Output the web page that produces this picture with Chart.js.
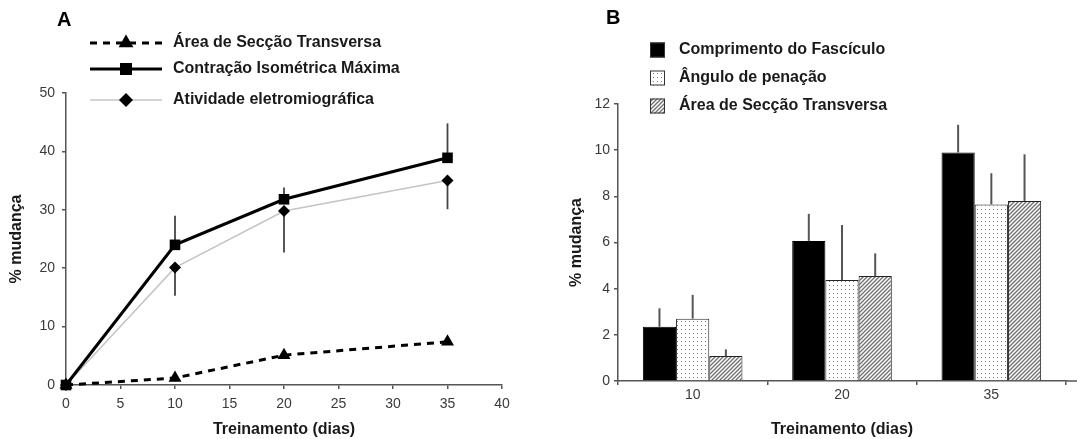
<!DOCTYPE html>
<html>
<head>
<meta charset="utf-8">
<script src="https://cdn.jsdelivr.net/npm/chart.js@4.4.0/dist/chart.umd.min.js"></script>
<style>
    body { margin: 0; background: #fff; }
    #painel { position: relative; width: 1077px; height: 439px; }
    #canvaA { position: absolute; left: 0; top: 0; }
    #canvaB { position: absolute; left: 540px; top: 0; }
</style>
</head>
<body>
<div id="painel">
    <canvas id="canvaA" width="540" height="439"></canvas>
    <canvas id="canvaB" width="537" height="439"></canvas>
</div>
<script>
// dados do grafico A (linhas)
var dias = [0, 10, 20, 35];
var area_secao = [0, 1.2, 5.1, 7.4];
var contracao = [0, 24, 31.8, 38.9];
var erro_contracao = [0, 5, 2, 5.9];      // erro para cima
var atividade = [0, 20.1, 29.8, 35];
var erro_atividade = [0, 4.8, 7.1, 4.9];  // erro para baixo

// dados do grafico B (barras)
var semanas = ['10', '20', '35'];
var comprimento = [2.35, 6.07, 9.9];
var erro_comprimento = [0.8, 1.17, 1.2];
var angulo = [2.7, 4.38, 7.65];
var erro_angulo = [1.03, 2.38, 1.35];
var area_b = [1.08, 4.55, 7.8];
var erro_area_b = [0.29, 0.98, 2.02];

var myChart1;
var myChart2;

Chart.defaults.font.family = "'Liberation Sans', Arial, sans-serif";
Chart.defaults.animation = false;

var corEixo = '#555';
var corTexto = '#1a1a1a';
var corTick = '#3a3a3a';

function pontos(ys) { // junta x e y para o grafico linear
    var lista = [];
    for (var i = 0; i < dias.length; i++) {
        lista.push({ x: dias[i], y: ys[i] });
    }
    return lista;
}

function desenhaMarcador(ctx, tipo, x, y, r) {
    ctx.beginPath();
    if (tipo == 'triangle') {
        ctx.moveTo(x, y - r);
        ctx.lineTo(x + r * 0.87, y + r * 0.5);
        ctx.lineTo(x - r * 0.87, y + r * 0.5);
    } else if (tipo == 'rect') {
        var s = r * Math.SQRT1_2;
        ctx.rect(x - s, y - s, 2 * s, 2 * s);
    } else {
        ctx.moveTo(x - r, y);
        ctx.lineTo(x, y - r);
        ctx.lineTo(x + r, y);
        ctx.lineTo(x, y + r);
    }
    ctx.closePath();
    ctx.fill();
}

// legenda e letra do painel A
var legendaA = {
    id: 'legendaA',
    afterDraw: function (chart) {
        var ctx = chart.ctx;
        var linhas = [43, 69, 100];
        ctx.save();
        ctx.fillStyle = '#000';
        ctx.font = "bold 20px 'Liberation Sans', Arial";
        ctx.textBaseline = 'middle';
        ctx.fillText('A', 57, 20);
        chart.data.datasets.forEach(function (ds, i) {
            var y = linhas[i];
            ctx.strokeStyle = ds.borderColor;
            ctx.lineWidth = ds.borderWidth;
            ctx.setLineDash(ds.borderDash || []);
            ctx.beginPath();
            ctx.moveTo(90, y);
            ctx.lineTo(162, y);
            ctx.stroke();
            ctx.setLineDash([]);
            ctx.fillStyle = '#000';
            desenhaMarcador(ctx, ds.pointStyle, 126, y, ds.pointRadius + 1);
            ctx.fillStyle = corTexto;
            ctx.font = "bold 16px 'Liberation Sans', Arial";
            ctx.fillText(ds.label, 173, y);
        });
        ctx.restore();
    }
};

// barras de erro do grafico A
var erroA = {
    id: 'erroA',
    beforeDatasetsDraw: function (chart) {
        var ctx = chart.ctx;
        var sx = chart.scales.x;
        var sy = chart.scales.y;
        ctx.save();
        ctx.strokeStyle = '#444';
        ctx.lineWidth = 1.8;
        for (var i = 0; i < dias.length; i++) {
            var x = sx.getPixelForValue(dias[i]);
            if (erro_contracao[i] > 0) {
                ctx.beginPath();
                ctx.moveTo(x, sy.getPixelForValue(contracao[i]));
                ctx.lineTo(x, sy.getPixelForValue(contracao[i] + erro_contracao[i]));
                ctx.stroke();
            }
            if (erro_atividade[i] > 0) {
                ctx.beginPath();
                ctx.moveTo(x, sy.getPixelForValue(atividade[i]));
                ctx.lineTo(x, sy.getPixelForValue(atividade[i] - erro_atividade[i]));
                ctx.stroke();
            }
        }
        ctx.restore();
    }
};

function graficoLinha() { // grafico A
    var ctx = document.getElementById('canvaA').getContext('2d');
    myChart1 = new Chart(ctx, {
        type: 'line',
        data: {
            datasets: [{
                label: 'Área de Secção Transversa',
                data: pontos(area_secao),
                borderColor: '#000',
                borderWidth: 3,
                borderDash: [7, 6],
                pointStyle: 'triangle',
                pointRadius: 7.5,
                pointBackgroundColor: '#000',
                pointBorderWidth: 0,
                clip: false
            }, {
                label: 'Contração Isométrica Máxima',
                data: pontos(contracao),
                borderColor: '#000',
                borderWidth: 3,
                pointStyle: 'rect',
                pointRadius: 7.5,
                pointBackgroundColor: '#000',
                pointBorderWidth: 0,
                clip: false
            }, {
                label: 'Atividade eletromiográfica',
                data: pontos(atividade),
                borderColor: '#c4c4c4',
                borderWidth: 1.5,
                pointStyle: 'rectRot',
                pointRadius: 6,
                pointBackgroundColor: '#000',
                pointBorderWidth: 0,
                clip: false
            }]
        },
        options: {
            responsive: false,
            layout: { padding: { top: 93, right: 38, left: 0, bottom: 0 } },
            plugins: { legend: { display: false }, tooltip: { enabled: false } },
            scales: {
                x: {
                    type: 'linear',
                    min: 0,
                    max: 40,
                    ticks: { stepSize: 5, padding: 7, color: corTick, font: { size: 14 }, maxRotation: 0 },
                    grid: { drawOnChartArea: false, tickLength: 4, color: corEixo, lineWidth: 1.5 },
                    border: { color: corEixo, width: 1.5 },
                    title: { display: true, text: 'Treinamento (dias)', color: corTexto, font: { size: 16, weight: 'bold' }, padding: { top: 0, bottom: 0 } },
                    afterFit: function (s) { s.height = 54; }
                },
                y: {
                    min: 0,
                    max: 50,
                    ticks: { stepSize: 10, padding: 7, color: corTick, font: { size: 14 } },
                    grid: { drawOnChartArea: false, tickLength: 4, color: corEixo, lineWidth: 1.5 },
                    border: { color: corEixo, width: 1.5 },
                    title: { display: true, text: '% mudança', color: corTexto, font: { size: 16, weight: 'bold' }, padding: { top: 7, bottom: 0 } },
                    afterFit: function (s) { s.width = 66; }
                }
            }
        },
        plugins: [erroA, legendaA]
    });
}

function criarPadrao(ctx, tipo) { // texturas das barras
    var c = document.createElement('canvas');
    c.width = 4;
    c.height = 4;
    var g = c.getContext('2d');
    g.fillStyle = '#fff';
    g.fillRect(0, 0, 4, 4);
    if (tipo == 'pontos') {
        g.fillStyle = '#7a7a7a';
        g.fillRect(1, 1, 1, 1);
    } else {
        g.strokeStyle = '#6e6e6e';
        g.lineWidth = 1.3;
        g.beginPath();
        g.moveTo(0, 4); g.lineTo(4, 0);
        g.moveTo(-1, 1); g.lineTo(1, -1);
        g.moveTo(3, 5); g.lineTo(5, 3);
        g.stroke();
    }
    return ctx.createPattern(c, 'repeat');
}

// legenda e letra do painel B
var legendaB = {
    id: 'legendaB',
    afterDraw: function (chart) {
        var ctx = chart.ctx;
        var linhas = [50, 78, 106];
        ctx.save();
        ctx.fillStyle = '#000';
        ctx.font = "bold 20px 'Liberation Sans', Arial";
        ctx.textBaseline = 'middle';
        ctx.fillText('B', 66, 18);
        chart.data.datasets.forEach(function (ds, i) {
            var y = linhas[i];
            ctx.fillStyle = ds.backgroundColor;
            ctx.fillRect(110, y - 7.5, 15, 15);
            ctx.strokeStyle = '#333';
            ctx.lineWidth = 1;
            ctx.strokeRect(110.5, y - 7, 14, 14);
            ctx.fillStyle = corTexto;
            ctx.font = "bold 16px 'Liberation Sans', Arial";
            ctx.fillText(ds.label, 139, y);
        });
        // o eixo x continua ate a borda
        var base = chart.scales.y.getPixelForValue(0);
        ctx.strokeStyle = corEixo;
        ctx.lineWidth = 1.5;
        ctx.beginPath();
        ctx.moveTo(chart.chartArea.right, base);
        ctx.lineTo(chart.width, base);
        ctx.stroke();
        ctx.restore();
    }
};

// barras de erro do grafico B
var erroB = {
    id: 'erroB',
    afterDatasetsDraw: function (chart) {
        var ctx = chart.ctx;
        var sy = chart.scales.y;
        var valores = [comprimento, angulo, area_b];
        var erros = [erro_comprimento, erro_angulo, erro_area_b];
        ctx.save();
        ctx.strokeStyle = '#555';
        ctx.lineWidth = 2;
        for (var d = 0; d < 3; d++) {
            var meta = chart.getDatasetMeta(d);
            for (var i = 0; i < semanas.length; i++) {
                var x = meta.data[i].x;
                ctx.beginPath();
                ctx.moveTo(x, sy.getPixelForValue(valores[d][i]));
                ctx.lineTo(x, sy.getPixelForValue(valores[d][i] + erros[d][i]));
                ctx.stroke();
            }
        }
        ctx.restore();
    }
};

function graficoBarra() { // grafico B
    var ctx = document.getElementById('canvaB').getContext('2d');
    myChart2 = new Chart(ctx, {
        type: 'bar',
        data: {
            labels: semanas,
            datasets: [{
                label: 'Comprimento do Fascículo',
                data: comprimento,
                backgroundColor: '#000',
                borderColor: '#000',
                borderWidth: 1
            }, {
                label: 'Ângulo de penação',
                data: angulo,
                backgroundColor: criarPadrao(ctx, 'pontos'),
                borderColor: '#222',
                borderWidth: 1
            }, {
                label: 'Área de Secção Transversa',
                data: area_b,
                backgroundColor: criarPadrao(ctx, 'listras'),
                borderColor: '#222',
                borderWidth: 1
            }]
        },
        options: {
            responsive: false,
            layout: { padding: { top: 104, right: 11, left: 0, bottom: 0 } },
            plugins: { legend: { display: false }, tooltip: { enabled: false } },
            datasets: { bar: { categoryPercentage: 0.667, barPercentage: 1.0 } },
            scales: {
                x: {
                    ticks: { padding: 2, color: corTick, font: { size: 14 } },
                    grid: { drawOnChartArea: false, tickLength: 4, color: corEixo, lineWidth: 1.5 },
                    border: { color: corEixo, width: 1.5 },
                    title: { display: true, text: 'Treinamento (dias)', color: corTexto, font: { size: 16, weight: 'bold' }, padding: { top: 1, bottom: 0 } },
                    afterFit: function (s) { s.height = 58; }
                },
                y: {
                    min: 0,
                    max: 12,
                    ticks: { stepSize: 2, padding: 4, color: corTick, font: { size: 14 } },
                    grid: { drawOnChartArea: false, tickLength: 4, color: corEixo, lineWidth: 1.5 },
                    border: { color: corEixo, width: 1.5 },
                    title: { display: true, text: '% mudança', color: corTexto, font: { size: 16, weight: 'bold' }, padding: { top: 27, bottom: 0 } },
                    afterFit: function (s) { s.width = 78; }
                }
            }
        },
        plugins: [erroB, legendaB]
    });
}

graficoLinha();
graficoBarra();
</script>
</body>
</html>
